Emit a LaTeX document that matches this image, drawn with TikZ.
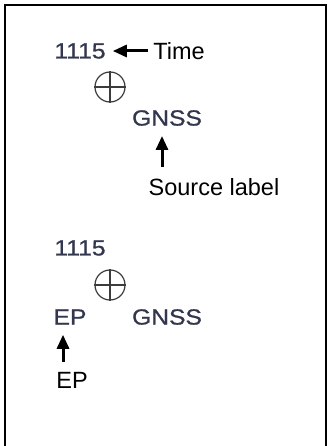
\documentclass[tikz,border=0pt]{standalone}
\usepackage{fontspec}
\setmainfont{Liberation Sans}
\newfontfamily\mapfont[FakeBold=0.8]{Liberation Sans}
\usetikzlibrary{arrows.meta}
\definecolor{maplabel}{RGB}{50,55,78}
\definecolor{symbolgray}{RGB}{60,60,60}
\begin{document}
\begin{tikzpicture}[x=1pt, y=-1pt,
  every node/.style={inner sep=0pt},
  maptext/.style={text=maplabel, font=\mapfont\fontsize{22}{24}\selectfont, xscale=1.12},
  callout/.style={text=black, font=\fontsize{23.5}{26}\selectfont},
  fix/.style={circle, draw=symbolgray, line width=1.2pt, minimum size=30pt},
  arrow/.style={-{Triangle[length=14pt, width=12pt]}, line width=3pt}
]
\useasboundingbox (0,0) rectangle (327,446);
\draw[line width=2pt] (5,448) -- (5,5) -- (325.5,5) -- (325.5,448);

% upper example: time and source label
\node[maptext] (time1) at (80,51) {1115};
\node[callout] (timelabel) at (179,51) {Time};
\node[fix] (fix1) at (110,87) {};
\draw[symbolgray, line width=1.2pt] (fix1.north) -- (fix1.south) (fix1.west) -- (fix1.east);
\node[maptext] (source1) at (167,118) {GNSS};
\node[callout] (sourcelabel) at (214,187) {Source label};
\draw[arrow, shorten <=5pt, shorten >=7pt] (timelabel.west) -- (time1.east);
\draw[arrow, shorten <=11pt, shorten >=10pt] ([xshift=-5pt]source1.south |- sourcelabel.north) -- ([xshift=-5pt]source1.south);

% lower example: EP
\node[maptext] (time2) at (80,248) {1115};
\node[fix] (fix2) at (110,285) {};
\draw[symbolgray, line width=1.2pt] (fix2.north) -- (fix2.south) (fix2.west) -- (fix2.east);
\node[maptext] (ep2) at (70,317) {EP};
\node[maptext] (source2) at (167,317) {GNSS};
\node[callout] (eplabel) at (72,380) {EP};
\draw[arrow, shorten <=10pt, shorten >=10pt] ([xshift=-7pt]ep2.south |- eplabel.north) -- ([xshift=-7pt]ep2.south);
\end{tikzpicture}
\end{document}
